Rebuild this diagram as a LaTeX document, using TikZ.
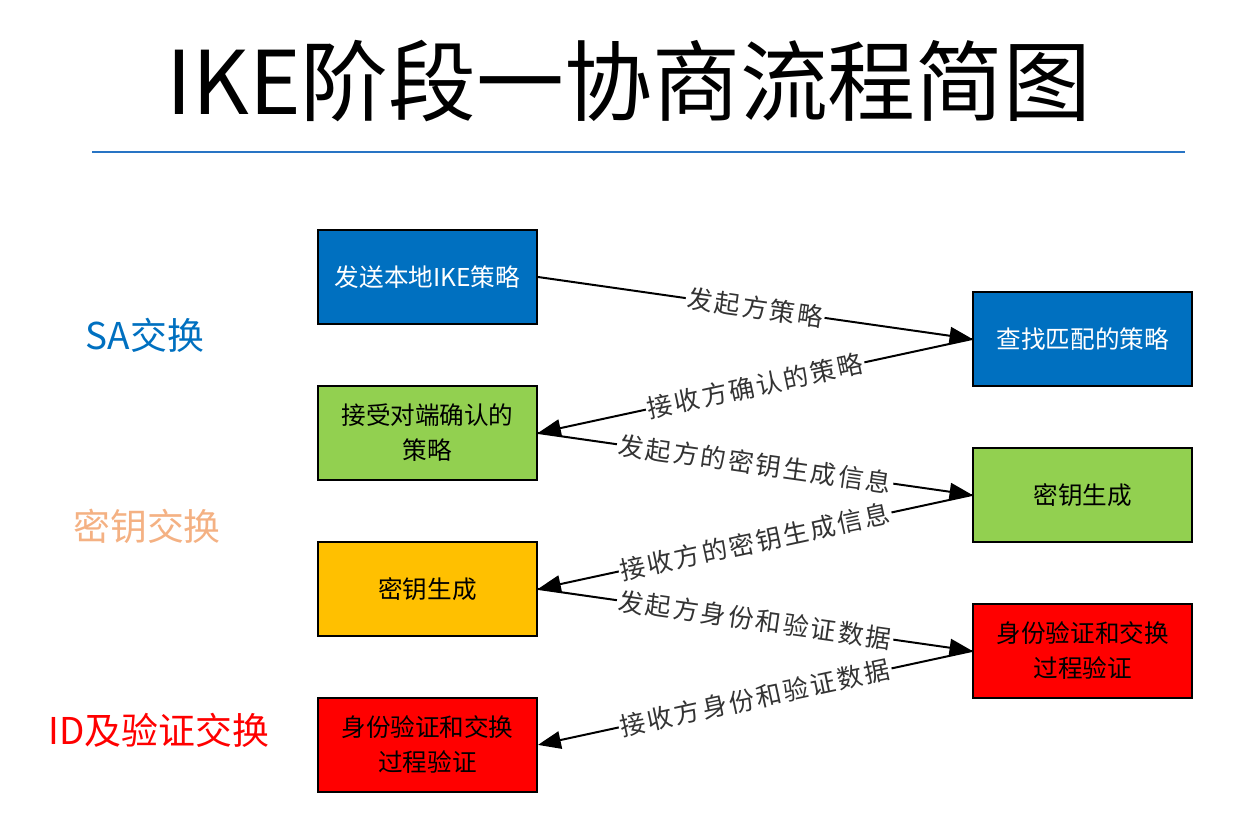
\documentclass[tikz,border=0pt]{standalone}
\usepackage{fontspec}
\setmainfont{Noto Sans CJK SC}
\usepackage{tikz}
\usetikzlibrary{arrows.meta}
\definecolor{boxblue}{RGB}{0,112,192}
\definecolor{boxgreen}{RGB}{146,208,80}
\definecolor{boxyellow}{RGB}{255,192,0}
\definecolor{boxred}{RGB}{255,0,0}
\definecolor{keyorange}{RGB}{244,177,131}
\definecolor{ruleblue}{RGB}{40,116,196}

\begin{document}
\begin{tikzpicture}[x=0.02cm,y=-0.02cm,line width=0.4mm,
  box/.style={draw=black,minimum width=4.38cm,minimum height=1.88cm,align=center,
    font=\fontsize{14}{20}\selectfont},
  bluebox/.style={box,fill=boxblue,text=white},
  greenbox/.style={box,fill=boxgreen},
  yellowbox/.style={box,fill=boxyellow},
  redbox/.style={box,fill=boxred},
  side/.style={font=\fontsize{21}{24}\selectfont},
  msg/.style={midway,sloped,fill=white,inner sep=1pt,text=black!80,
    font=\fontsize{14.5}{17}\selectfont\addfontfeature{LetterSpace=9}},
  flow/.style={-{Triangle[length=13pt,width=10pt]}}]

  \useasboundingbox (0,0) rectangle (1241,834);

  \node[font=\fontsize{50}{60}\selectfont] at (629,81) (title) {IKE阶段一协商流程简图};
  \draw[ruleblue,line width=1.7pt] (92,152) -- (1185,152);

  \node[bluebox] at (427.5,277) (send) {发送本地IKE策略};
  \node[greenbox] at ([yshift=-3.12cm]send) (accept) {接受对端确认的\\策略};
  \node[yellowbox] at ([yshift=-3.12cm]accept) (keyl) {密钥生成};
  \node[redbox] at ([yshift=-3.12cm]keyl) (authl) {身份验证和交换\\过程验证};

  \node[bluebox] at ([xshift=13.11cm,yshift=-1.24cm]send) (match) {查找匹配的策略};
  \node[greenbox] at ([xshift=13.11cm,yshift=-1.24cm]accept) (keyr) {密钥生成};
  \node[redbox] at ([xshift=13.11cm,yshift=-1.24cm]keyl) (authr) {身份验证和交换\\过程验证};

  \node[side,text=boxblue] at (145,335) (sa) {SA交换};
  \node[side,text=keyorange] at (147,526) (kx) {密钥交换};
  \node[side,text=boxred] at (159,730) (idx) {ID及验证交换};

  \draw[flow] (send.east) -- node[msg]{发起方策略} (match.west);
  \draw[flow] (match.west) -- node[msg]{接收方确认的策略} (accept.east);
  \draw[flow] (accept.east) -- node[msg]{发起方的密钥生成信息} (keyr.west);
  \draw[flow] (keyr.west) -- node[msg]{接收方的密钥生成信息} (keyl.east);
  \draw[flow] (keyl.east) -- node[msg]{发起方身份和验证数据} (authr.west);
  \draw[flow] (authr.west) -- node[msg]{接收方身份和验证数据} (authl.east);

\end{tikzpicture}
\end{document}
